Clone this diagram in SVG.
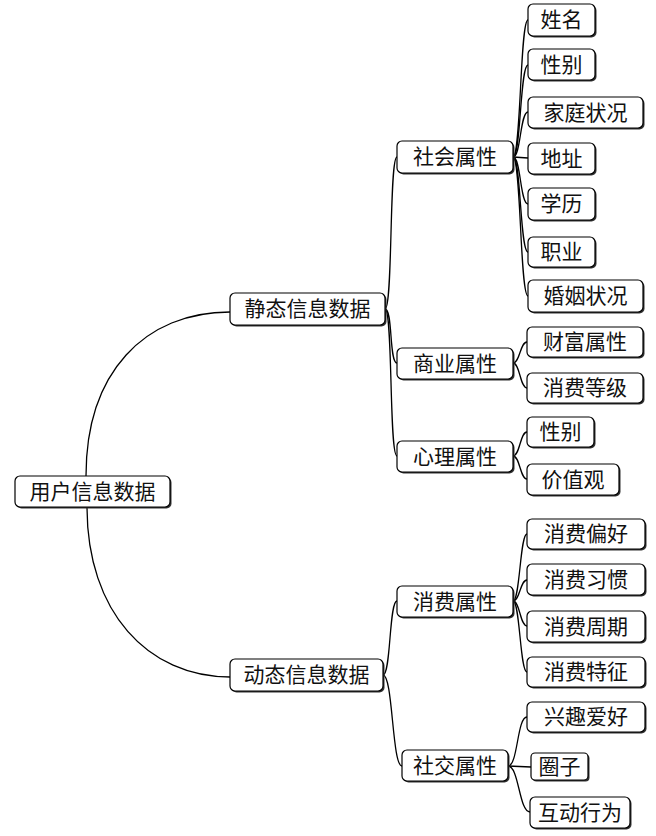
<svg xmlns="http://www.w3.org/2000/svg" width="656" height="836" viewBox="0 0 656 836">
<style>
.sh{fill:#333}
.bx{fill:#fff;stroke:#000;stroke-width:1.2}
.t{font-family:"Noto Sans CJK SC","Noto Sans CJK TC",sans-serif;font-size:21px;fill:#111;text-anchor:middle}
.c{fill:none;stroke:#000;stroke-width:1.3}
</style>
<rect width="656" height="836" fill="#fff"/>
<g id="connectors">
<path class="c" d="M86,476 C86,372 145,312 230,312"/>
<path class="c" d="M87,507 C87,612 148,677 230,677"/>
<path class="c" d="M385,309 C393,309 389,157 397,157"/>
<path class="c" d="M385,309 C393,309 389,363 397,363"/>
<path class="c" d="M385,309 C393,309 389,456 397,456"/>
<path class="c" d="M383,675 C391,675 389,601 397,601"/>
<path class="c" d="M383,675 C393,675 392,766 402,766"/>
<path class="c" d="M513,157 C521,157 520,20 528,20"/>
<path class="c" d="M513,157 C521,157 520,65 528,65"/>
<path class="c" d="M513,157 C521,157 520,112 528,112"/>
<path class="c" d="M513,157 L528,158"/>
<path class="c" d="M513,157 C521,157 520,204 528,204"/>
<path class="c" d="M513,157 C521,157 520,252 528,252"/>
<path class="c" d="M513,157 C521,157 520,296 528,296"/>
<path class="c" d="M513,363 C520,363 520,342 527,342"/>
<path class="c" d="M513,363 C520,363 520,388 527,388"/>
<path class="c" d="M513,456 C520,456 520,432 527,432"/>
<path class="c" d="M513,456 C520,456 520,479 527,479"/>
<path class="c" d="M513,601 C520,601 520,534 527,534"/>
<path class="c" d="M513,601 C520,601 520,580 527,580"/>
<path class="c" d="M513,601 C520,601 520,626 527,626"/>
<path class="c" d="M513,601 C520,601 520,672 527,672"/>
<path class="c" d="M508,766 C518,766 517,717 527,717"/>
<path class="c" d="M508,766 L531,767"/>
<path class="c" d="M508,766 C519,766 519,812 530,812"/>
</g>
<g id="root"><rect class="sh" x="16.5" y="477.5" width="155" height="31" rx="5"/><rect class="bx" x="15" y="476" width="155" height="31" rx="5"/><text class="t" x="92.5" y="499">用户信息数据</text></g>
<g id="static"><rect class="sh" x="231.5" y="294.5" width="155" height="32" rx="5"/><rect class="bx" x="230" y="293" width="155" height="32" rx="5"/><text class="t" x="307.5" y="316">静态信息数据</text></g>
<g id="dynamic"><rect class="sh" x="231.5" y="660.5" width="153" height="32" rx="5"/><rect class="bx" x="230" y="659" width="153" height="32" rx="5"/><text class="t" x="306.5" y="682">动态信息数据</text></g>
<g id="social"><rect class="sh" x="398.5" y="142.5" width="116" height="32" rx="5"/><rect class="bx" x="397" y="141" width="116" height="32" rx="5"/><text class="t" x="455" y="164">社会属性</text></g>
<g id="business"><rect class="sh" x="398.5" y="349.5" width="116" height="31" rx="5"/><rect class="bx" x="397" y="348" width="116" height="31" rx="5"/><text class="t" x="455" y="370.5">商业属性</text></g>
<g id="psych"><rect class="sh" x="398.5" y="442.5" width="116" height="31" rx="5"/><rect class="bx" x="397" y="441" width="116" height="31" rx="5"/><text class="t" x="455" y="463.5">心理属性</text></g>
<g id="consume"><rect class="sh" x="398.5" y="587.5" width="116" height="31" rx="5"/><rect class="bx" x="397" y="586" width="116" height="31" rx="5"/><text class="t" x="455" y="608.5">消费属性</text></g>
<g id="socialnet"><rect class="sh" x="403.5" y="751.5" width="106" height="31" rx="5"/><rect class="bx" x="402" y="750" width="106" height="31" rx="5"/><text class="t" x="455" y="772.5">社交属性</text></g>
<g id="name"><rect class="sh" x="529.5" y="5.5" width="67" height="32" rx="5"/><rect class="bx" x="528" y="4" width="67" height="32" rx="5"/><text class="t" x="561.5" y="27">姓名</text></g>
<g id="gender1"><rect class="sh" x="529.5" y="50.5" width="67" height="31" rx="5"/><rect class="bx" x="528" y="49" width="67" height="31" rx="5"/><text class="t" x="561.5" y="71.5">性别</text></g>
<g id="family"><rect class="sh" x="529.5" y="98.5" width="115" height="31" rx="5"/><rect class="bx" x="528" y="97" width="115" height="31" rx="5"/><text class="t" x="585.5" y="119.5">家庭状况</text></g>
<g id="address"><rect class="sh" x="529.5" y="144.5" width="67" height="31" rx="5"/><rect class="bx" x="528" y="143" width="67" height="31" rx="5"/><text class="t" x="561.5" y="165.5">地址</text></g>
<g id="edu"><rect class="sh" x="529.5" y="189.5" width="67" height="32" rx="5"/><rect class="bx" x="528" y="188" width="67" height="32" rx="5"/><text class="t" x="561.5" y="211">学历</text></g>
<g id="job"><rect class="sh" x="529.5" y="238.5" width="67" height="30" rx="5"/><rect class="bx" x="528" y="237" width="67" height="30" rx="5"/><text class="t" x="561.5" y="259">职业</text></g>
<g id="marriage"><rect class="sh" x="529.5" y="281.5" width="115" height="32" rx="5"/><rect class="bx" x="528" y="280" width="115" height="32" rx="5"/><text class="t" x="585.5" y="303">婚姻状况</text></g>
<g id="wealth"><rect class="sh" x="528.5" y="328.5" width="116" height="30" rx="5"/><rect class="bx" x="527" y="327" width="116" height="30" rx="5"/><text class="t" x="585" y="349">财富属性</text></g>
<g id="level"><rect class="sh" x="528.5" y="374.5" width="116" height="30" rx="5"/><rect class="bx" x="527" y="373" width="116" height="30" rx="5"/><text class="t" x="585" y="395">消费等级</text></g>
<g id="gender2"><rect class="sh" x="528.5" y="418.5" width="67" height="30" rx="5"/><rect class="bx" x="527" y="417" width="67" height="30" rx="5"/><text class="t" x="560.5" y="439">性别</text></g>
<g id="values"><rect class="sh" x="528.5" y="465.5" width="92" height="31" rx="5"/><rect class="bx" x="527" y="464" width="92" height="31" rx="5"/><text class="t" x="573" y="486.5">价值观</text></g>
<g id="pref"><rect class="sh" x="528.5" y="520.5" width="118" height="30" rx="5"/><rect class="bx" x="527" y="519" width="118" height="30" rx="5"/><text class="t" x="586" y="541">消费偏好</text></g>
<g id="habit"><rect class="sh" x="528.5" y="565.5" width="118" height="31" rx="5"/><rect class="bx" x="527" y="564" width="118" height="31" rx="5"/><text class="t" x="586" y="586.5">消费习惯</text></g>
<g id="cycle"><rect class="sh" x="528.5" y="612.5" width="118" height="31" rx="5"/><rect class="bx" x="527" y="611" width="118" height="31" rx="5"/><text class="t" x="586" y="633.5">消费周期</text></g>
<g id="feature"><rect class="sh" x="528.5" y="658.5" width="118" height="30" rx="5"/><rect class="bx" x="527" y="657" width="118" height="30" rx="5"/><text class="t" x="586" y="679">消费特征</text></g>
<g id="hobby"><rect class="sh" x="528.5" y="703.5" width="118" height="30" rx="5"/><rect class="bx" x="527" y="702" width="118" height="30" rx="5"/><text class="t" x="586" y="724">兴趣爱好</text></g>
<g id="circle"><rect class="sh" x="532.5" y="754.5" width="57" height="27" rx="4"/><rect class="bx" x="531" y="753" width="57" height="27" rx="4"/><text class="t" x="559.5" y="774">圈子</text></g>
<g id="interact"><rect class="sh" x="531.5" y="798.5" width="100" height="31" rx="5"/><rect class="bx" x="530" y="797" width="100" height="31" rx="5"/><text class="t" x="580" y="819.5">互动行为</text></g>
</svg>
